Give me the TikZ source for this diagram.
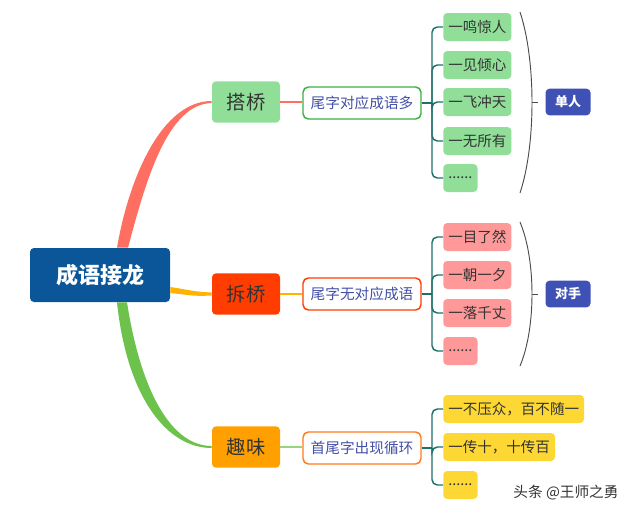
\documentclass[tikz,border=0pt]{standalone}
\usepackage{fontspec}
\setmainfont{Noto Sans CJK SC}
\usetikzlibrary{calc}
\definecolor{rootblue}{HTML}{0A5699}
\definecolor{leafgreen}{HTML}{90DE98}
\definecolor{leafpink}{HTML}{FF9999}
\definecolor{leafyellow}{HTML}{FDD835}
\definecolor{hotred}{HTML}{FF3D00}
\definecolor{amber}{HTML}{FFA000}
\definecolor{brred}{HTML}{FF6F61}
\definecolor{bryellow}{HTML}{FFB300}
\definecolor{brgreen}{HTML}{6CC24A}
\definecolor{subgreen}{HTML}{3CB043}
\definecolor{suborange}{HTML}{FF7A1A}
\definecolor{subtext}{HTML}{4451A6}
\definecolor{tealline}{HTML}{1F6F6A}
\definecolor{tagblue}{HTML}{3F51B5}

\begin{document}
\begin{tikzpicture}[x=0.75pt, y=-0.75pt,
  rootbox/.style={fill=rootblue, text=white, rounded corners=3pt, minimum width=105pt, minimum height=40.5pt, font=\fontsize{16.5}{18}\selectfont\bfseries},
  mainbox/.style={rounded corners=3pt, text=black!80, minimum width=51pt, minimum height=31pt, font=\fontsize{14.5}{16}\selectfont},
  subbox/.style={draw, fill=white, line width=1.1pt, rounded corners=4pt, text=subtext, minimum width=88.5pt, minimum height=24pt, font=\fontsize{11}{13}\selectfont},
  leaf/.style={anchor=west, rounded corners=3pt, text=black!80, minimum height=21pt, inner xsep=3.75pt, font=\fontsize{10.9}{12}\selectfont},
  dots/.style={leaf, minimum width=24.75pt},
  tag/.style={fill=tagblue, text=white, rounded corners=3pt, minimum width=33.75pt, minimum height=20pt, font=\fontsize{9.75}{11}\selectfont\bfseries},
  twig/.style={tealline, line width=1.1pt, rounded corners=4pt},
  brace/.style={black!70, line width=0.7pt}]
  \useasboundingbox (0,0) rectangle (640,515);

  \node[rootbox] (root) at (100,275) {成语接龙};
  \node[mainbox, fill=leafgreen] (dq) at (246,102) {搭桥};
  \node[mainbox, fill=hotred] (cq) at (246,294) {拆桥};
  \node[mainbox, fill=amber] (qw) at (246,447) {趣味};

  \fill[brred] ($(root.north)+(17,0)$) .. controls +(12,-70) and +(-50,0) .. ($(dq.west)+(0,-1)$)
    -- ($(dq.west)+(0,1)$) .. controls +(-44,1) and +(18,-68) .. ($(root.north)+(28,0)$) -- cycle;
  \fill[bryellow] ($(root.east)+(0,12)$) .. controls +(20,3) and +(-20,-1) .. ($(cq.west)+(0,-1.5)$)
    -- ($(cq.west)+(0,1.5)$) .. controls +(-20,1) and +(20,2) .. ($(root.east)+(0,18)$) -- cycle;
  \fill[brgreen] ($(root.south)+(17,0)$) .. controls +(10,95) and +(-45,0) .. ($(qw.west)+(0,1)$)
    -- ($(qw.west)+(0,-1)$) .. controls +(-40,0) and +(14,90) .. ($(root.south)+(27,0)$) -- cycle;

  \node[subbox, draw=subgreen] (s1) at (362,103) {尾字对应成语多};
  \node[subbox, draw=hotred] (s2) at (362,294) {尾字无对应成语};
  \node[subbox, draw=suborange] (s3) at (362,448) {首尾字出现循环};
  \draw[brred, line width=1.1pt] (dq.east) -- (dq.east -| s1.west);
  \draw[bryellow, line width=1.1pt] (cq.east) -- (cq.east -| s2.west);
  \draw[brgreen!70, line width=1.1pt] (qw.east) -- (qw.east -| s3.west);

  \node[leaf, fill=leafgreen] (a1) at (443,27) {一鸣惊人};
  \node[leaf, fill=leafgreen] (a2) at (443,65) {一见倾心};
  \node[leaf, fill=leafgreen] (a3) at (443,102) {一飞冲天};
  \node[leaf, fill=leafgreen] (a4) at (443,141) {一无所有};
  \node[dots, fill=leafgreen] (a5) at (443,178) {......};

  \node[leaf, fill=leafpink] (b1) at (443,237) {一目了然};
  \node[leaf, fill=leafpink] (b2) at (443,275) {一朝一夕};
  \node[leaf, fill=leafpink] (b3) at (443,313) {一落千丈};
  \node[dots, fill=leafpink] (b4) at (443,351) {......};

  \node[leaf, fill=leafyellow] (c1) at (443,409) {一不压众，百不随一};
  \node[leaf, fill=leafyellow] (c2) at (443,447) {一传十，十传百};
  \node[dots, fill=leafyellow] (c3) at (443,485) {......};

  \coordinate (j1) at (432,103);
  \coordinate (j2) at (432,294);
  \coordinate (j3) at (432,448);
  \draw[twig] (s1.east) -- (j1);
  \draw[twig] (s2.east) -- (j2);
  \draw[twig] (s3.east) -- (j3);
  \foreach \n in {a1,a2,a3,a4,a5} \draw[twig] (j1) |- (\n.west);
  \foreach \n in {b1,b2,b3,b4} \draw[twig] (j2) |- (\n.west);
  \foreach \n in {c1,c2,c3} \draw[twig] (j3) |- (\n.west);

  \draw[brace] (520,12) .. controls (536,60) and (536,145) .. (520,193);
  \draw[brace] (532,102) -- (538,102);
  \draw[brace] (520,222) .. controls (536,260) and (536,328) .. (520,366);
  \draw[brace] (532,294) -- (538,294);
  \node[tag] (dr) at (568,102) {单人};
  \node[tag] (ds) at (568,294) {对手};

  \node[text=black!80, font=\fontsize{11}{13}\selectfont] (wm) at (566,493) {头条 @王师之勇};
\end{tikzpicture}
\end{document}
